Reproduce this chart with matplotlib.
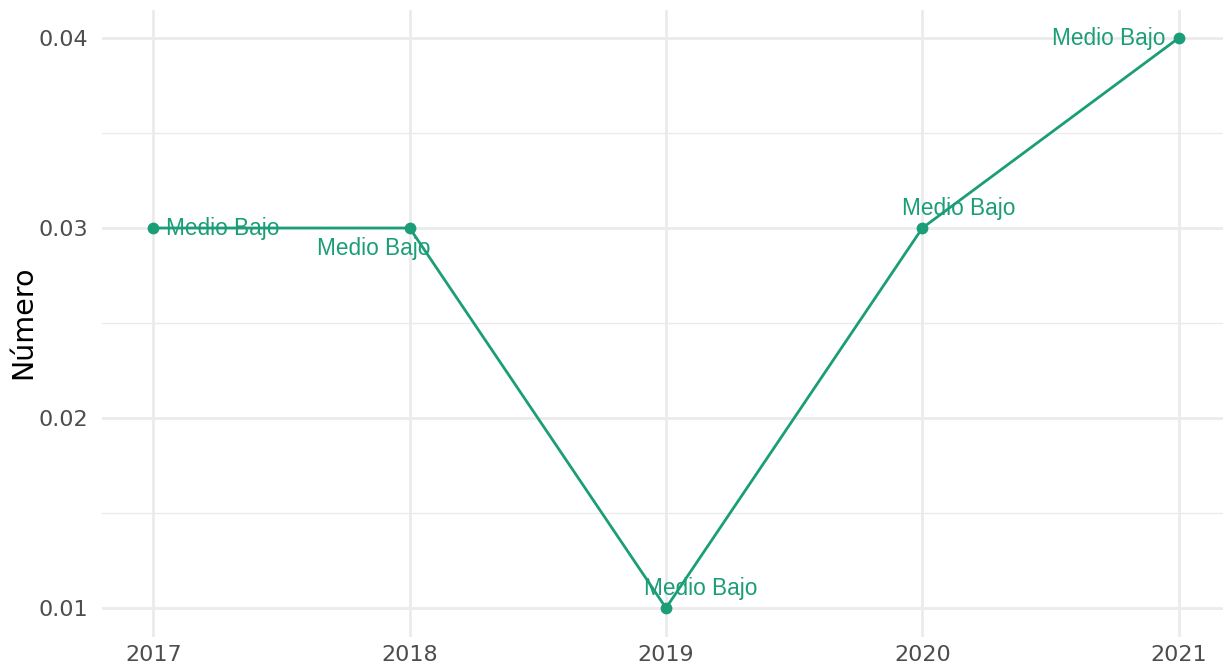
import matplotlib
matplotlib.use("Agg")
import matplotlib.pyplot as plt

years = [2017, 2018, 2019, 2020, 2021]
values = [0.03, 0.03, 0.01, 0.03, 0.04]
labels = ["Medio Bajo"] * 5
# label offsets (pixels) and alignment, as placed in the reference
offsets = [(13, 0), (-36, -20), (35, 19), (36, 19), (-13, 0)]
aligns = ["left", "center", "center", "center", "right"]

color = "#1b9e77"

fig = plt.figure(figsize=(12.23, 6.72), dpi=100)
ax = fig.add_axes([102 / 1223, 1 - 636.5 / 672, 1128 / 1223, 627 / 672])

ax.plot(years, values, color=color, linewidth=2, zorder=3)
ax.scatter(years, values, color=color, s=72, zorder=4, linewidths=0)

for x, y, lab, off, ha in zip(years, values, labels, offsets, aligns):
    ax.annotate(lab, (x, y), xytext=off, textcoords="offset pixels",
                ha=ha, va="center", color=color, fontsize=16.3,
                family="Liberation Sans", zorder=5)

ax.set_xlim(2016.8, 2021.2)
ax.set_ylim(0.0085, 0.0415)
ax.set_xticks(years)
ax.set_xticklabels([str(y) for y in years])
ax.set_yticks([0.01, 0.02, 0.03, 0.04])
ax.set_yticklabels(["0.01", "0.02", "0.03", "0.04"])
ax.set_yticks([0.015, 0.025, 0.035], minor=True)

ax.grid(which="major", color="#ebebeb", linewidth=2)
ax.grid(which="minor", axis="y", color="#ebebeb", linewidth=1)
ax.set_axisbelow(True)
for s in ax.spines.values():
    s.set_visible(False)
ax.tick_params(which="both", length=0, labelsize=16, labelcolor="#4d4d4d")
ax.tick_params(axis="y", pad=10)
ax.tick_params(axis="x", pad=6)

fig.text(23 / 1223, 1 - 322 / 672, "Número", rotation=90, fontsize=20.5,
         ha="center", va="center")

fig.savefig("out.png", dpi=100)
